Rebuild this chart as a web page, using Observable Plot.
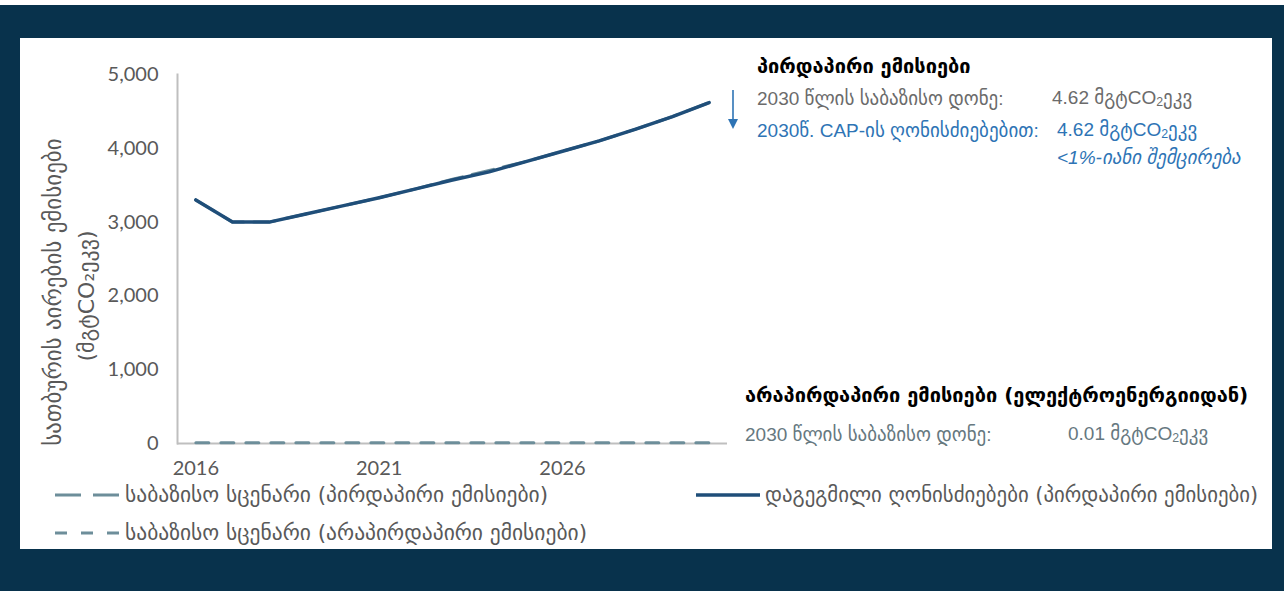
<!DOCTYPE html>
<html>
<head>
<meta charset="utf-8">
<script src="https://cdn.jsdelivr.net/npm/d3@7"></script>
<script src="https://cdn.jsdelivr.net/npm/@observablehq/plot@0.6"></script>
<style>
  html, body { margin: 0; padding: 0; background: #ffffff; width: 1284px; height: 591px; overflow: hidden; }
  #navy { position: absolute; left: 0; top: 5px; width: 1284px; height: 586px; background: #08324c; }
  #panel { position: absolute; left: 20px; top: 38px; width: 1252px; height: 511px; background: #ffffff; }
  #chart { position: absolute; left: 20px; top: 38px; }
  .t { position: absolute; white-space: nowrap; line-height: 1; }
  .geo { font-family: "DejaVu Sans", "Liberation Sans", sans-serif; }
  .ar { font-family: "Liberation Sans", "DejaVu Sans", sans-serif; }
  .ylab { position: absolute; white-space: nowrap; transform: translate(-50%, -50%) rotate(-90deg); font-family: "DejaVu Sans", sans-serif; color: #595959; line-height: 1; }
</style>
</head>
<body>
<div id="navy"></div>
<div id="panel"></div>
<div id="chart"></div>
<script>
// ---- data ----
const years = ["2016","2017","2018","2019","2020","2021","2022","2023","2024","2025","2026","2027","2028","2029","2030"];
const plannedDirect  = [3300, 3000, 3000, 3110, 3220, 3330, 3450, 3570, 3680, 3820, 3960, 4100, 4260, 4430, 4620];
const baselineDirect = [3300, 3000, 3000, 3110, 3220, 3330, 3450, 3580, 3700, 3820, 3960, 4100, 4260, 4430, 4620];
const baselineIndirect = [10, 10, 10, 10, 10, 10, 10, 10, 10, 10, 10, 10, 10, 10, 10];
const yTicks = [0, 1000, 2000, 3000, 4000, 5000];
const xTicks = ["2016", "2021", "2026"];

const seriesNames = {
  baseDirect: "საბაზისო სცენარი (პირდაპირი ემისიები)",
  planned: "დაგეგმილი ღონისძიებები (პირდაპირი ემისიები)",
  baseIndirect: "საბაზისო სცენარი (არაპირდაპირი ემისიები)"
};
const yAxisLabel1 = "სათბურის აირების ემისიები";
const yAxisLabel2 = "(მგტCO₂ეკვ)";

const colBase = "#6d8e9a";
const colPlanned = "#1f4e79";

const rows = (vals) => years.map((y, i) => ({year: y, value: vals[i]}));

const plot = Plot.plot({
  width: 720,
  height: 440,
  marginLeft: 157,
  marginRight: 13,
  marginTop: 36,
  marginBottom: 35,
  style: {fontFamily: "Lato, 'Open Sans', sans-serif", fontSize: "20px", color: "#595959", background: "transparent", overflow: "visible"},
  x: {type: "point", domain: years, padding: 0.5, round: false, label: null},
  y: {domain: [0, 5000], label: null},
  marks: [
    Plot.ruleY([0], {stroke: "#bfbfbf", strokeWidth: 2}),
    Plot.frame({anchor: "left", stroke: "#bfbfbf", strokeWidth: 2}),
    Plot.axisY({ticks: yTicks, tickSize: 0, tickPadding: 19, tickFormat: d3.format(","), label: null, fontSize: 20}),
    Plot.axisX({ticks: xTicks, tickSize: 0, tickPadding: 17, label: null, fontSize: 20}),
    Plot.line(rows(baselineDirect), {x: "year", y: "value", stroke: colBase, strokeWidth: 3, strokeDasharray: "22,10"}),
    Plot.line(rows(plannedDirect), {x: "year", y: "value", stroke: colPlanned, strokeWidth: 3.5}),
    Plot.line(rows(baselineIndirect), {x: "year", y: "value", stroke: colBase, strokeWidth: 3, strokeDasharray: "13,12"})
  ]
});
document.getElementById("chart").appendChild(plot);

// ---- annotations / legend ----
function addText(html, left, centerY, cls, style) {
  const d = document.createElement("div");
  d.className = "t " + cls;
  d.innerHTML = html;
  Object.assign(d.style, {left: left + "px"}, style || {});
  document.body.appendChild(d);
  const h = d.getBoundingClientRect().height;
  d.style.top = (centerY - h / 2) + "px";
  return d;
}
const unit = (v) => v + " მგტCO<sub style='font-size:0.65em;vertical-align:-0.15em'>2</sub>ეკვ";

addText("პირდაპირი ემისიები", 757, 66, "geo", {fontWeight: "bold", fontSize: "20px", color: "#000"});
addText("2030 წლის საბაზისო დონე:", 757, 98, "ar", {fontSize: "19px", color: "#6b6b6b"});
addText(unit("4.62"), 1052, 98, "ar", {fontSize: "19px", color: "#6b6b6b"});
addText("2030წ. CAP-ის ღონისძიებებით:", 757, 130, "ar", {fontSize: "19px", color: "#2e74b5"});
addText(unit("4.62"), 1057, 130, "ar", {fontSize: "19px", color: "#2e74b5"});
addText("&lt;1%-იანი შემცირება", 1057, 157, "ar", {fontSize: "19px", color: "#2e74b5", fontStyle: "italic"});

addText("არაპირდაპირი ემისიები (ელექტროენერგიიდან)", 745, 395, "geo", {fontWeight: "bold", fontSize: "20px", color: "#000"});
addText("2030 წლის საბაზისო დონე:", 745, 434, "ar", {fontSize: "19px", color: "#66787f"});
addText(unit("0.01"), 1068, 434, "ar", {fontSize: "19px", color: "#66787f"});

// arrow
const ns = "http://www.w3.org/2000/svg";
const arr = document.createElementNS(ns, "svg");
arr.setAttribute("width", 20); arr.setAttribute("height", 50);
arr.style.position = "absolute"; arr.style.left = "723px"; arr.style.top = "85px";
arr.innerHTML = `<line x1="10" y1="5" x2="10" y2="36" stroke="#2e74b5" stroke-width="1.6"/><path d="M5,34 L15,34 L10,44 Z" fill="#2e74b5"/>`;
document.body.appendChild(arr);

// y axis label
function addYLab(text, cx, cy, fs) {
  const d = document.createElement("div");
  d.className = "ylab";
  d.textContent = text;
  d.style.left = cx + "px"; d.style.top = cy + "px"; d.style.fontSize = fs + "px";
  document.body.appendChild(d);
}
addYLab(yAxisLabel1, 53, 292, 23);
addYLab(yAxisLabel2, 87, 296, 22);

// legend
function legendItem(x, y, symW, dash, color, width, label, fs) {
  const s = document.createElementNS(ns, "svg");
  s.setAttribute("width", symW); s.setAttribute("height", 10);
  s.style.position = "absolute"; s.style.left = x + "px"; s.style.top = (y - 5) + "px";
  s.innerHTML = `<line x1="0" y1="5" x2="${symW}" y2="5" stroke="${color}" stroke-width="${width}" ${dash ? `stroke-dasharray="${dash}"` : ""}/>`;
  document.body.appendChild(s);
  addText(label, x + symW + 5, y, "geo", {fontSize: fs + "px", color: "#595959"});
}
legendItem(55, 495, 65, "26,12", colBase, 3, seriesNames.baseDirect, 21.5);
legendItem(55, 533, 65, "12,14", colBase, 3, seriesNames.baseIndirect, 21.5);
legendItem(696, 495, 64, null, colPlanned, 3.5, seriesNames.planned, 20.8);
</script>
</body>
</html>
